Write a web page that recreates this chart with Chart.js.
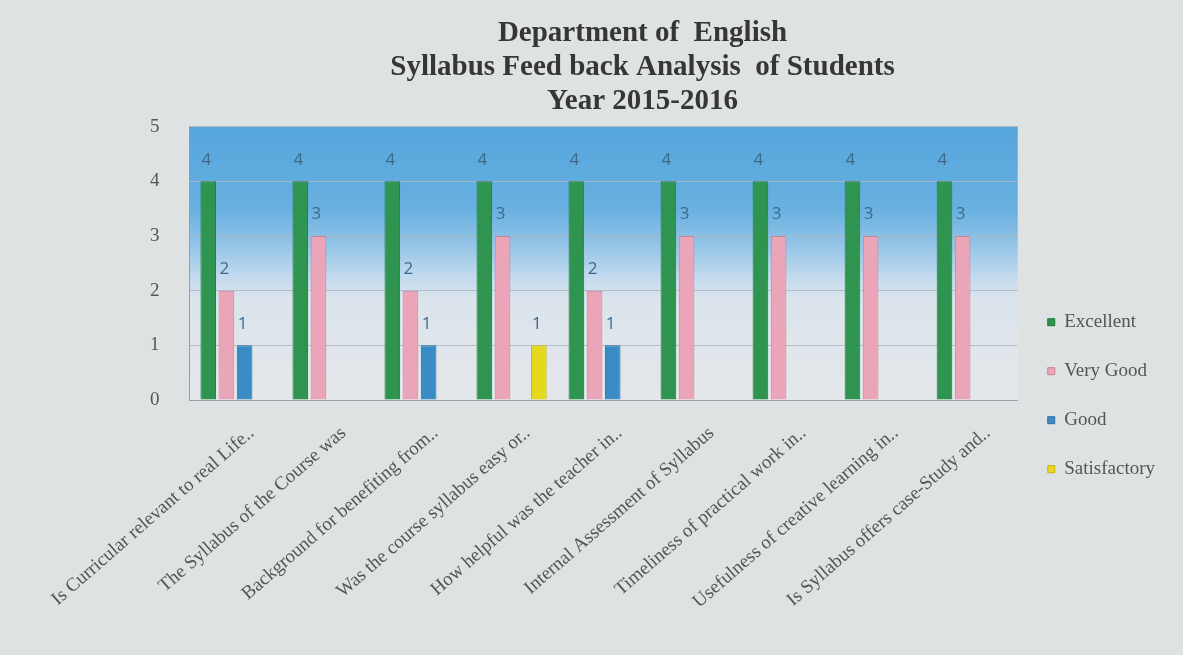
<!DOCTYPE html>
<html>
<head>
<meta charset="utf-8">
<script src="https://cdn.jsdelivr.net/npm/chart.js@4.4.0/dist/chart.umd.min.js"></script>
<style>
  html, body { margin: 0; padding: 0; background: #dcdfdf; }
  #wrap { position: relative; width: 1183px; height: 655px; }
</style>
</head>
<body>
<div id="wrap"><canvas id="grafico"></canvas></div>
<script>
// datos
const categories = [
  'Is Curricular relevant to real Life..',
  'The Syllabus of the Course was',
  'Background for benefiting from..',
  'Was the course syllabus easy or..',
  'How helpful was the teacher in..',
  'Internal Assessment of Syllabus',
  'Timeliness of practical work in..',
  'Usefulness of creative learning in..',
  'Is Syllabus offers case-Study and..'
];
const excellent = [4, 4, 4, 4, 4, 4, 4, 4, 4];
const veryGood = [2, 3, 2, 3, 2, 3, 3, 3, 3];
const good = [1, null, 1, null, 1, null, null, null, null];
const satisfactory = [null, null, null, 1, null, null, null, null, null];
const yTicks = [0, 1, 2, 3, 4, 5];
const titleLines = ['Department of  English', 'Syllabus Feed back Analysis  of Students', 'Year 2015-2016'];

const ctx = document.getElementById('grafico').getContext('2d');

// fondo de la pagina y degradado del area de trazado
const fondo = {
  id: 'fondo',
  beforeDraw(chart) {
    const { ctx, chartArea: a, width, height } = chart;
    ctx.save();
    ctx.fillStyle = '#dfe2e2';
    ctx.fillRect(0, 0, width, height);
    const g = ctx.createLinearGradient(0, a.top, 0, a.bottom);
    g.addColorStop(0, '#55a5dc');
    g.addColorStop(0.3, '#68b0e0');
    g.addColorStop(0.42, '#8fc2e6');
    g.addColorStop(0.55, '#c2daee');
    g.addColorStop(0.63, '#dbe4ec');
    g.addColorStop(1, '#e4e7ea');
    ctx.fillStyle = g;
    ctx.fillRect(a.left, a.top, a.right - a.left, a.bottom - a.top);
    ctx.restore();
  }
};

// numeros encima de las barras
const etiquetas = {
  id: 'etiquetas',
  afterDatasetsDraw(chart) {
    const { ctx } = chart;
    ctx.save();
    ctx.font = '17px "Open Sans", sans-serif';
    ctx.fillStyle = '#3d6989';
    ctx.textAlign = 'center';
    ctx.textBaseline = 'bottom';
    chart.data.datasets.forEach((ds, i) => {
      chart.getDatasetMeta(i).data.forEach((bar, j) => {
        const v = ds.data[j];
        if (v === null || v === undefined) return;
        ctx.fillText(String(v), bar.x - 2, bar.y - 13);
      });
    });
    ctx.restore();
  }
};

const grafico = new Chart(ctx, {
  type: 'bar',
  data: {
    labels: categories,
    datasets: [
      { label: 'Excellent', data: excellent, backgroundColor: '#2f9450', borderColor: '#1f7a3c', borderWidth: 1 },
      { label: 'Very Good', data: veryGood, backgroundColor: '#eaa6b8', borderColor: '#c98396', borderWidth: 1 },
      { label: 'Good', data: good, backgroundColor: '#3b8cc4', borderColor: '#2a6fa0', borderWidth: 1 },
      { label: 'Satisfactory', data: satisfactory, backgroundColor: '#e6d81c', borderColor: '#c4b60e', borderWidth: 1 }
    ]
  },
  options: {
    responsive: true,
    maintainAspectRatio: false,
    animation: false,
    datasets: { bar: { categoryPercentage: 0.79, barPercentage: 0.86 } },
    layout: { padding: { left: 120, right: 18, top: 0, bottom: 28 } },
    plugins: {
      title: {
        display: true,
        text: titleLines,
        color: '#363636',
        font: { family: '"Liberation Serif", serif', size: 29, weight: 'bold', lineHeight: 1.18 },
        padding: { top: 16, bottom: 8 }
      },
      legend: {
        position: 'right',
        align: 'center',
        title: { display: true, text: ' ', padding: { top: 150, bottom: 0 } },
        labels: {
          boxWidth: 7,
          boxHeight: 7,
          padding: 30,
          color: '#555',
          font: { family: '"Liberation Serif", serif', size: 19 }
        }
      },
      tooltip: { enabled: false }
    },
    scales: {
      x: {
        grid: { display: false },
        border: { color: '#9a9ea2' },
        ticks: {
          minRotation: 41,
          maxRotation: 41,
          padding: 14,
          labelOffset: 16,
          color: '#555',
          font: { family: '"Liberation Serif", serif', size: 19 }
        }
      },
      y: {
        min: 0,
        max: 5,
        afterBuildTicks: axis => { axis.ticks = yTicks.map(v => ({ value: v })); },
        grid: { color: 'rgba(175,185,195,0.9)', drawTicks: false },
        border: { color: '#9a9ea2' },
        ticks: {
          padding: 30,
          color: '#555',
          font: { family: '"Liberation Serif", serif', size: 19 }
        }
      }
    }
  },
  plugins: [fondo, etiquetas]
});
</script>
</body>
</html>
